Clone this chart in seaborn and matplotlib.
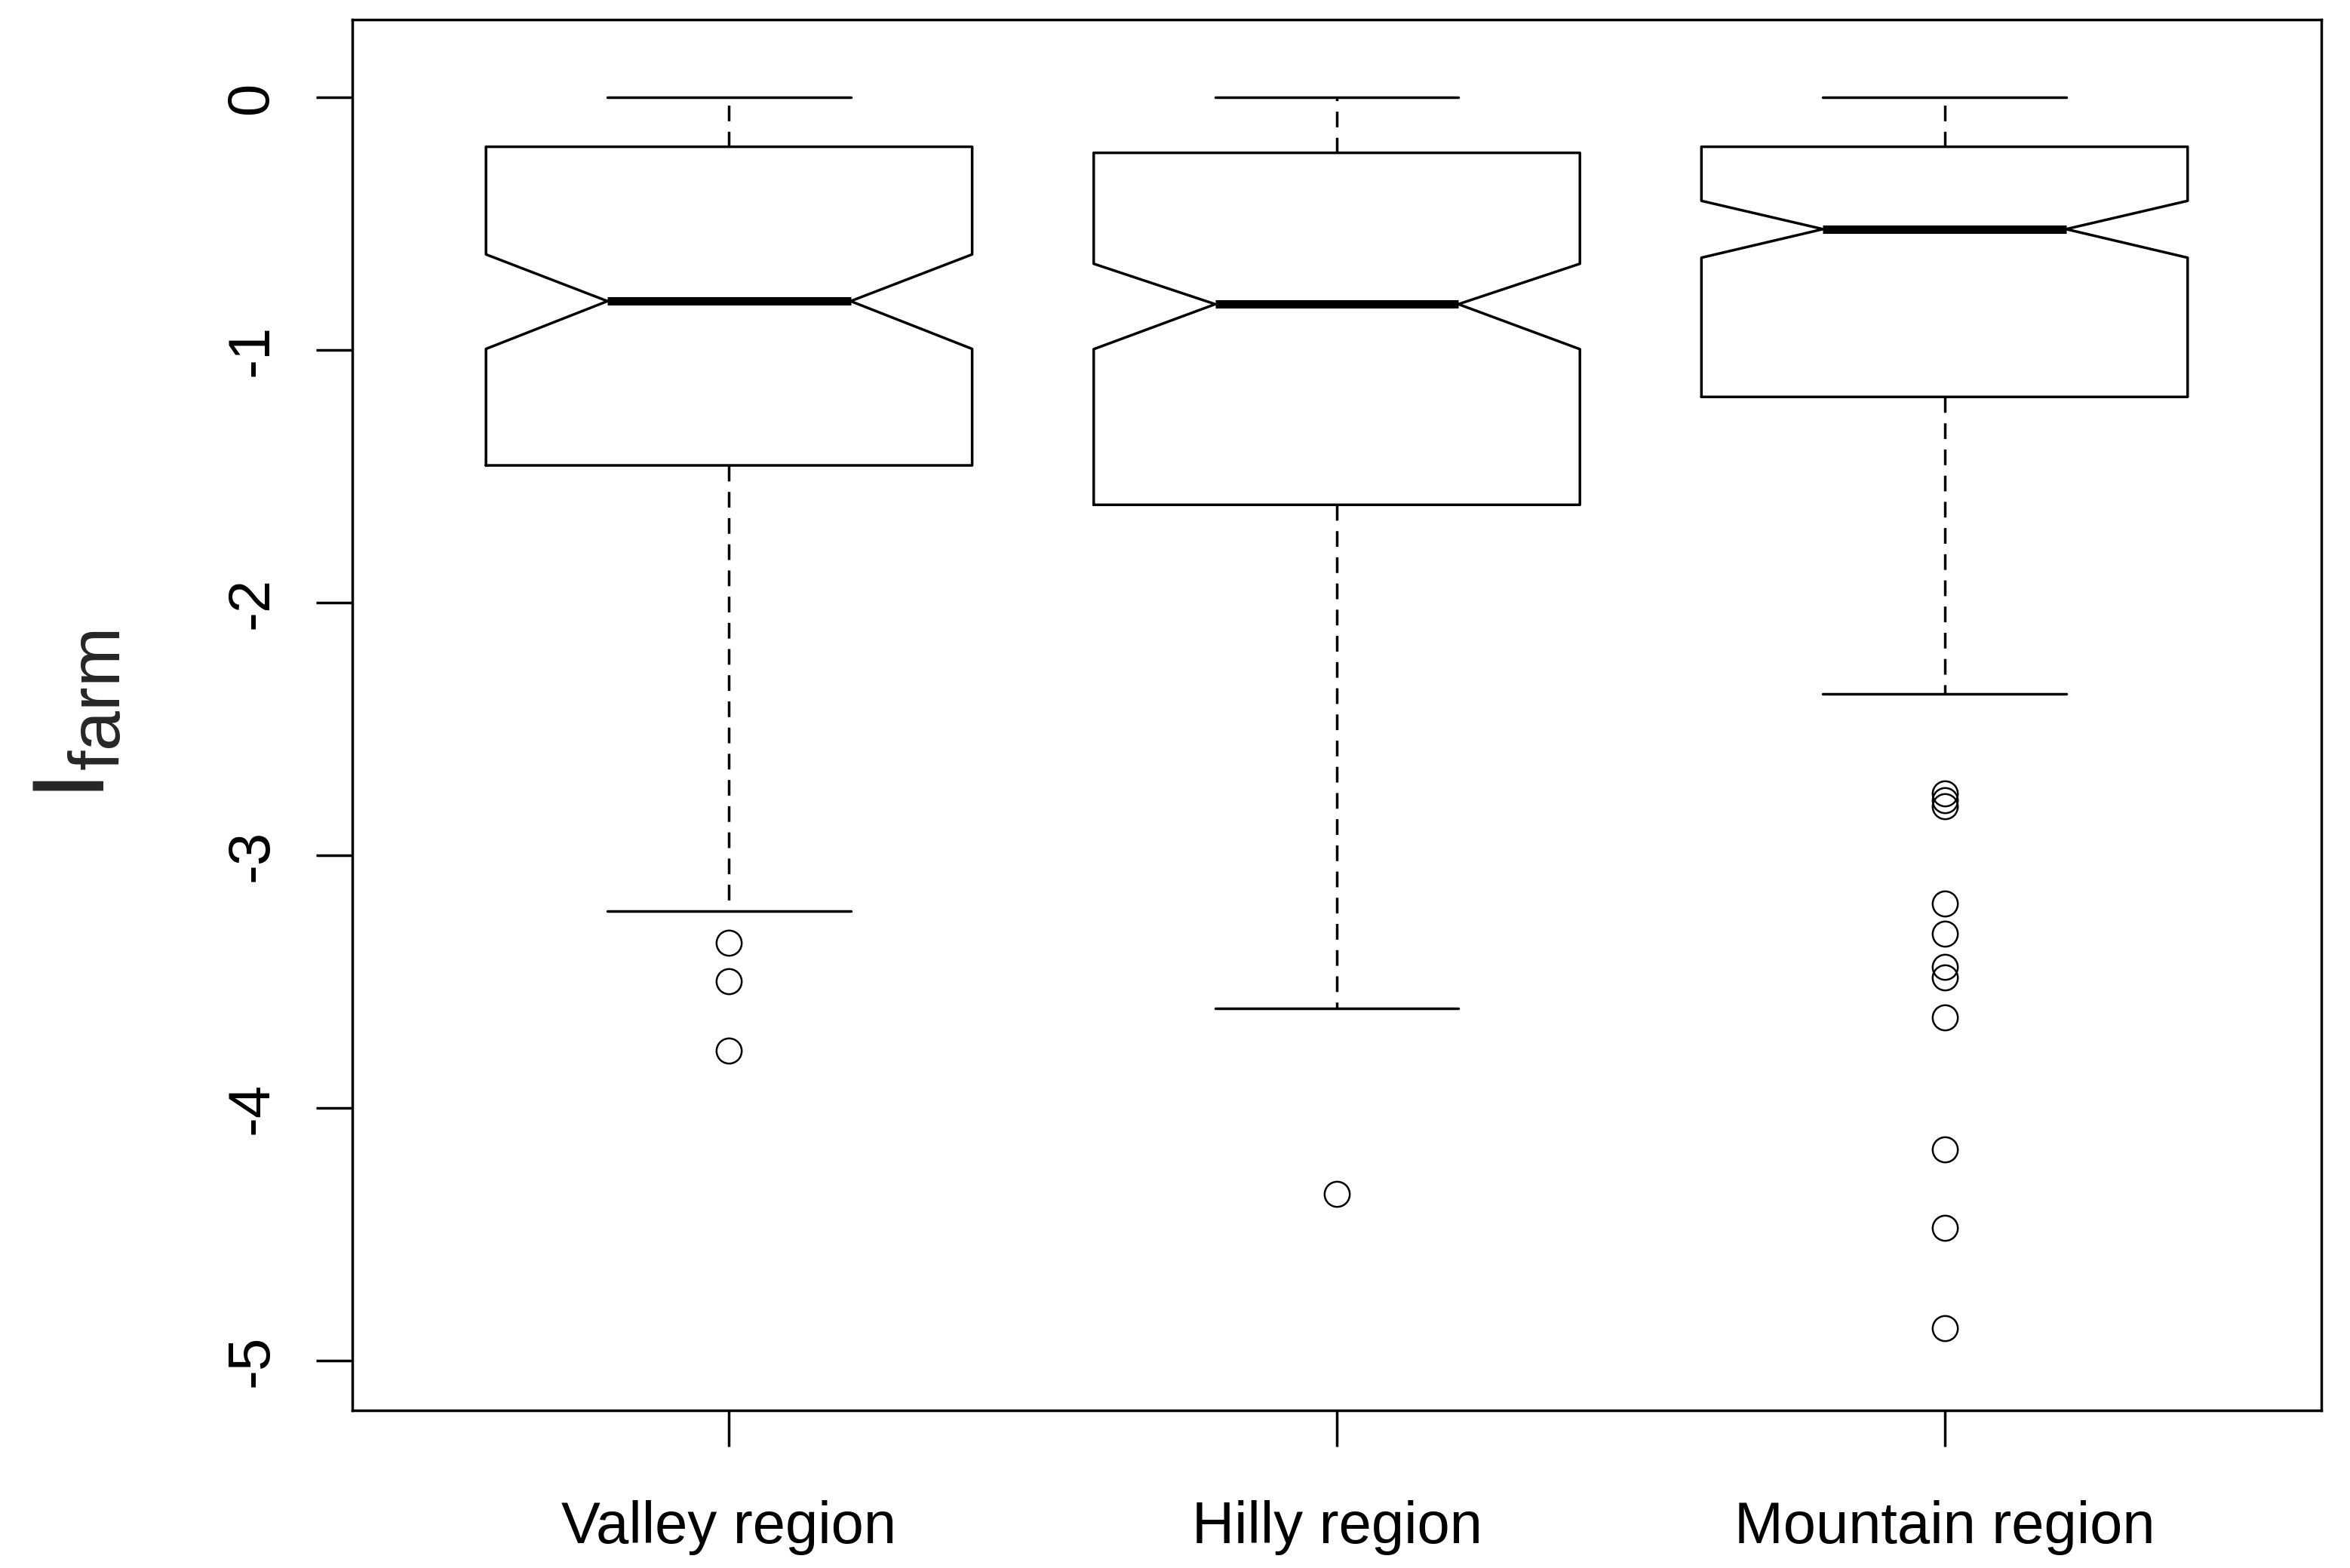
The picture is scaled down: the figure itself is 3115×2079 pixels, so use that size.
import numpy as np
import pandas as pd
import seaborn as sns
import matplotlib
matplotlib.use("Agg")
import matplotlib.pyplot as plt

# values (R-style notched boxplot)
regions = ["Valley region", "Hilly region", "Mountain region"]
q1 = [-1.457, -1.613, -1.186]
med = [-0.807, -0.819, -0.522]
q3 = [-0.196, -0.220, -0.196]
notch_lo = [-0.996, -0.997, -0.635]
notch_hi = [-0.622, -0.659, -0.410]
whisk_lo = [-3.220, -3.606, -2.361]
whisk_hi = [0.0, 0.0, 0.0]
outliers_valley = [-3.345, -3.499, -3.772]
outliers_hilly = [-4.340]
outliers_mountain = [-2.755, -2.781, -2.807, -3.192, -3.309, -3.441,
                     -3.484, -3.642, -4.164, -4.473, -4.872]
y_ticks = [0, -1, -2, -3, -4, -5]

sns.set_theme(style="ticks")
plt.rcParams["font.family"] = ["Liberation Sans", "DejaVu Sans"]
plt.rcParams["axes.unicode_minus"] = False
plt.rcParams["mathtext.fontset"] = "custom"
plt.rcParams["mathtext.rm"] = "Liberation Sans"
plt.rcParams["mathtext.it"] = "Liberation Sans"

fliers = [outliers_valley, outliers_hilly, outliers_mountain]
stats = []
for i, name in enumerate(regions):
    stats.append(dict(label=name, med=med[i], q1=q1[i], q3=q3[i],
                      cilo=notch_lo[i], cihi=notch_hi[i],
                      whislo=whisk_lo[i], whishi=whisk_hi[i],
                      fliers=np.array(fliers[i])))

fig = plt.figure(figsize=(31.15, 20.79), dpi=100)
ax = fig.add_axes([0.1499, 0.1005, 0.8379, 0.8868])

lw = 2.5
ax.bxp(stats, positions=[1, 2, 3], widths=0.8, shownotches=True,
       boxprops=dict(color="black", linewidth=lw),
       whiskerprops=dict(color="black", linewidth=lw, linestyle=(0, (6, 4))),
       capprops=dict(color="black", linewidth=lw),
       medianprops=dict(color="black", linewidth=8, solid_capstyle="butt"),
       flierprops=dict(marker="o", markersize=24, markerfacecolor="none",
                       markeredgecolor="black", markeredgewidth=1.8))

ax.set_xlim(0.38, 3.62)
ax.set_ylim(-5.197, 0.306)
ax.set_yticks(y_ticks)
ax.set_yticklabels([str(t) for t in y_ticks])

for s in ax.spines.values():
    s.set_linewidth(lw)
    s.set_color("black")

ax.tick_params(axis="both", direction="out", length=34.5, width=lw,
               color="black", labelsize=56, labelcolor="black")
ax.tick_params(axis="x", pad=51)
ax.tick_params(axis="y", pad=35)
for lab in ax.get_yticklabels():
    lab.set_rotation(90)
    lab.set_va("center")

ax.set_ylabel(r"$\mathrm{I}_{\mathrm{farm}}$", fontsize=98, labelpad=94)
ax.set_xlabel("")
ax.grid(False)

fig.savefig("out.png", dpi=100, facecolor="white")
